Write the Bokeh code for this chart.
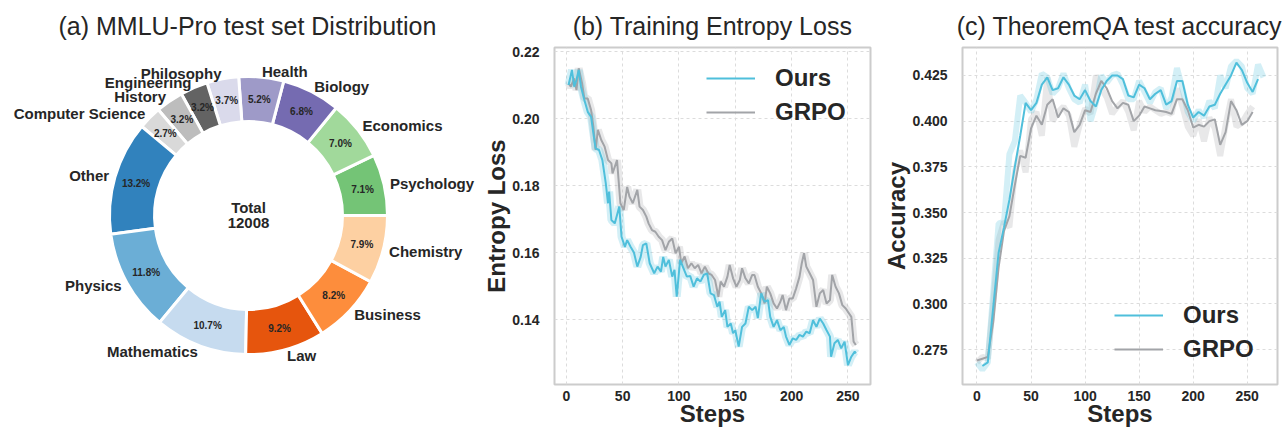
import numpy as np
from bokeh.plotting import figure
from bokeh.layouts import row
from bokeh.models import (Range1d, FixedTicker, NumeralTickFormatter, Legend,
                          LegendItem, ColumnDataSource)
from bokeh.core.properties import value
from bokeh.embed import file_html
from bokeh.resources import INLINE

FONT = "Liberation Sans"
TXT = "#262626"

# ---------------- (a) MMLU-Pro distribution ----------------
categories = ["Psychology", "Economics", "Biology", "Health", "Philosophy",
              "Engineering", "History", "Computer Science", "Other", "Physics",
              "Mathematics", "Law", "Business", "Chemistry"]
shares = [7.1, 7.0, 6.8, 5.2, 3.7, 3.2, 3.2, 2.7, 13.2, 11.8, 10.7, 9.2, 8.2, 7.9]
slice_colors = ["#74c476", "#a1d99b", "#756bb1", "#9e9ac8", "#dadaeb",
                "#636363", "#bdbdbd", "#d9d9d9", "#3182bd", "#6baed6",
                "#c6dbef", "#e6550d", "#fd8d3c", "#fdd0a2"]
total_count = 12008

# ---------------- (b) entropy loss ----------------
ent_steps_ours = [2, 5, 7, 9, 11, 13, 16, 19, 22, 24, 26, 29, 32, 35, 37, 38, 40, 43, 45, 47,
                  49, 52, 54, 57, 60, 63, 66, 68, 71, 74, 78, 81, 84, 86, 88, 91, 94, 96, 98, 101,
                  104, 107, 110, 113, 116, 119, 122, 125, 128, 131, 134, 136, 138, 141, 143, 146,
                  148, 150, 153, 156, 159, 162, 165, 168, 170, 173, 176, 179, 181, 184, 187, 190,
                  193, 195, 198, 201, 204, 207, 210, 213, 216, 219, 222, 225, 228, 231, 234, 235,
                  238, 241, 244, 247, 250, 253, 256, 257]
ent_ours = [0.2100, 0.2145, 0.2095, 0.2115, 0.2145, 0.2095, 0.2055, 0.2020, 0.2005, 0.1956,
            0.1911, 0.1906, 0.1876, 0.1807, 0.1747, 0.1782, 0.1697, 0.1687, 0.1712, 0.1737,
            0.1647, 0.1617, 0.1637, 0.1617, 0.1600, 0.1558, 0.1587, 0.1622, 0.1627, 0.1568,
            0.1538, 0.1558, 0.1543, 0.1587, 0.1558, 0.1578, 0.1528, 0.1548, 0.1468, 0.1578,
            0.1553, 0.1528, 0.1530, 0.1498, 0.1523, 0.1513, 0.1533, 0.1538, 0.1478, 0.1473,
            0.1438, 0.1453, 0.1408, 0.1428, 0.1378, 0.1388, 0.1359, 0.1368, 0.1319, 0.1378,
            0.1388, 0.1438, 0.1428, 0.1438, 0.1404, 0.1478, 0.1453, 0.1458, 0.1408, 0.1378,
            0.1398, 0.1368, 0.1378, 0.1349, 0.1324, 0.1344, 0.1339, 0.1354, 0.1349, 0.1364,
            0.1359, 0.1398, 0.1378, 0.1403, 0.1388, 0.1368, 0.1349, 0.1289, 0.1329, 0.1339,
            0.1314, 0.1334, 0.1264, 0.1289, 0.1304, 0.1299]
ent_steps_grpo = [2, 4, 7, 9, 11, 14, 16, 19, 22, 24, 26, 28, 31, 34, 37, 40, 41, 45, 48, 51,
                  54, 56, 59, 63, 65, 68, 71, 73, 76, 79, 82, 85, 88, 91, 94, 97, 100, 102, 105,
                  108, 111, 114, 117, 120, 123, 126, 129, 132, 135, 137, 140, 143, 145, 148, 151,
                  154, 156, 159, 162, 165, 167, 170, 173, 176, 178, 181, 184, 187, 190, 192, 195,
                  198, 201, 204, 207, 209, 211, 213, 216, 219, 222, 225, 228, 231, 234, 236, 239,
                  242, 245, 248, 253, 255, 257]
ent_grpo = [0.2105, 0.2095, 0.2120, 0.2085, 0.2150, 0.2105, 0.2060, 0.2060, 0.2025, 0.1976,
            0.1906, 0.1966, 0.1936, 0.1916, 0.1876, 0.1866, 0.1836, 0.1876, 0.1747, 0.1727,
            0.1796, 0.1767, 0.1747, 0.1787, 0.1737, 0.1727, 0.1707, 0.1687, 0.1667, 0.1662,
            0.1647, 0.1637, 0.1607, 0.1632, 0.1642, 0.1598, 0.1617, 0.1568, 0.1588, 0.1553,
            0.1568, 0.1553, 0.1563, 0.1538, 0.1558, 0.1538, 0.1533, 0.1518, 0.1468, 0.1513,
            0.1498, 0.1528, 0.1563, 0.1523, 0.1498, 0.1518, 0.1553, 0.1523, 0.1508, 0.1533,
            0.1533, 0.1498, 0.1478, 0.1448, 0.1498, 0.1478, 0.1448, 0.1433, 0.1453, 0.1473,
            0.1428, 0.1463, 0.1463, 0.1493, 0.1528, 0.1568, 0.1598, 0.1558, 0.1538, 0.1518,
            0.1438, 0.1478, 0.1488, 0.1448, 0.1458, 0.1533, 0.1498, 0.1478, 0.1443, 0.1433,
            0.1408, 0.1334, 0.1324]

# ---------------- (c) TheoremQA accuracy ----------------
acc_raw_steps = list(range(0, 270, 5))
acc_ours_raw = [0.268, 0.264, 0.268, 0.306, 0.344, 0.345, 0.382, 0.389, 0.414, 0.410,
                0.405, 0.412, 0.426, 0.424, 0.415, 0.418, 0.426, 0.418, 0.412, 0.410,
                0.420, 0.400, 0.410, 0.425, 0.421, 0.425, 0.426, 0.420, 0.412, 0.412,
                0.422, 0.416, 0.410, 0.416, 0.418, 0.407, 0.413, 0.429, 0.418, 0.405,
                0.400, 0.406, 0.402, 0.411, 0.407, 0.425, 0.418, 0.430, 0.433, 0.430,
                0.418, 0.415, 0.431, 0.424]
acc_grpo_raw_steps = list(range(0, 260, 5))
acc_grpo_raw = [0.268, 0.271, 0.270, 0.300, 0.335, 0.345, 0.342, 0.372, 0.384, 0.372,
                0.401, 0.405, 0.392, 0.424, 0.400, 0.405, 0.408, 0.403, 0.386, 0.398,
                0.407, 0.404, 0.425, 0.418, 0.413, 0.404, 0.408, 0.411, 0.405, 0.395,
                0.411, 0.405, 0.408, 0.406, 0.404, 0.405, 0.404, 0.418, 0.408, 0.397,
                0.392, 0.401, 0.389, 0.402, 0.396, 0.381, 0.398, 0.412, 0.397, 0.399,
                0.404, 0.408]
acc_ours_steps = list(range(5, 265, 5))
acc_ours = [0.266, 0.268, 0.298, 0.328, 0.342, 0.357, 0.375, 0.392, 0.410, 0.406,
            0.410, 0.420, 0.424, 0.417, 0.418, 0.424, 0.420, 0.414, 0.412, 0.417,
            0.411, 0.408, 0.417, 0.422, 0.425, 0.425, 0.423, 0.414, 0.413, 0.420,
            0.418, 0.412, 0.415, 0.417, 0.409, 0.411, 0.422, 0.422, 0.409, 0.402,
            0.405, 0.403, 0.408, 0.409, 0.415, 0.420, 0.425, 0.432, 0.428, 0.421,
            0.416, 0.423]
acc_grpo_steps = list(range(0, 260, 5))
acc_grpo = [0.269, 0.270, 0.271, 0.290, 0.320, 0.340, 0.348, 0.365, 0.381, 0.380,
            0.396, 0.403, 0.398, 0.409, 0.412, 0.402, 0.407, 0.405, 0.394, 0.398,
            0.406, 0.405, 0.415, 0.422, 0.418, 0.411, 0.407, 0.410, 0.409, 0.400,
            0.403, 0.408, 0.407, 0.406, 0.4055, 0.405, 0.404, 0.412, 0.412, 0.406,
            0.3965, 0.398, 0.397, 0.400, 0.401, 0.387, 0.394, 0.411, 0.406, 0.398,
            0.400, 0.405]

OURS_C = "#4fbfdb"
GRPO_C = "#a2a4a8"

H = 431
TOP, BOTTOM = 47, 47

# ================= figure (a) =================
W_A = 480
pa = figure(width=W_A, height=H, output_backend="svg", toolbar_location=None,
            x_range=Range1d(0, W_A), y_range=Range1d(BOTTOM, H - TOP),
            min_border_left=0, min_border_right=0,
            min_border_top=TOP, min_border_bottom=BOTTOM)
pa.axis.visible = False
pa.grid.visible = False
pa.outline_line_color = None
pa.title.text = "(a) MMLU-Pro test set Distribution"
pa.title.align = "left"
pa.title.offset = 58
pa.title.text_font = FONT
pa.title.text_font_size = "25px"
pa.title.text_font_style = "normal"
pa.title.text_color = TXT
pa.title.standoff = 15

cx, cy, r_out, r_in = 248, 216, 139, 94
vals = np.array(shares, dtype=float)
frac = vals / vals.sum()
ends = np.cumsum(frac) * 2 * np.pi
starts = ends - frac * 2 * np.pi
mids = (starts + ends) / 2
src_a = ColumnDataSource(dict(start=starts, end=ends, color=slice_colors))
pa.annular_wedge(x=cx, y=cy, inner_radius=r_in, outer_radius=r_out,
                 start_angle="start", end_angle="end", fill_color="color",
                 line_color="white", line_width=3, source=src_a)

lab_r = 145
lab_src = ColumnDataSource(dict(
    x=cx + lab_r * np.cos(mids), y=cy + lab_r * np.sin(mids), text=categories,
    align=["left" if np.cos(m) > 0 else "right" for m in mids]))
pa.text(x="x", y="y", text="text", text_align="align", text_baseline="middle",
        text_font=value(FONT), text_font_style="bold", text_font_size="15px",
        text_color=TXT, source=lab_src)

pct_r = 117
pct_src = ColumnDataSource(dict(
    x=cx + pct_r * np.cos(mids), y=cy + pct_r * np.sin(mids),
    text=[f"{s:.1f}%" for s in shares]))
pa.text(x="x", y="y", text="text", text_align="center", text_baseline="middle",
        text_font=value(FONT), text_font_style="bold", text_font_size="10px",
        text_color=TXT, source=pct_src)

pa.text(x=[cx, cx], y=[cy + 8, cy - 7], text=["Total", str(total_count)],
        text_align="center", text_baseline="middle", text_font=value(FONT),
        text_font_style="bold", text_font_size="15px", text_color=TXT)


def style(p, title, ylabel, yticks, yfmt):
    p.title.text = title
    p.title.align = "center"
    p.title.text_font = FONT
    p.title.text_font_size = "25px"
    p.title.text_font_style = "normal"
    p.title.text_color = TXT
    p.title.standoff = 15
    p.outline_line_color = "#cccccc"
    p.outline_line_width = 2
    p.background_fill_color = "white"
    p.border_fill_color = "white"
    for ax in p.axis:
        ax.axis_line_color = None
        ax.major_tick_line_color = None
        ax.minor_tick_line_color = None
        ax.major_label_text_font = FONT
        ax.major_label_text_font_style = "bold"
        ax.major_label_text_font_size = "14px"
        ax.major_label_text_color = TXT
        ax.axis_label_text_font = FONT
        ax.axis_label_text_font_style = "bold"
        ax.axis_label_text_font_size = "24px"
        ax.axis_label_text_color = TXT
    p.xaxis.axis_label = "Steps"
    p.yaxis.axis_label = ylabel
    p.xaxis.ticker = FixedTicker(ticks=[0, 50, 100, 150, 200, 250])
    p.yaxis.ticker = FixedTicker(ticks=yticks)
    p.yaxis.formatter = NumeralTickFormatter(format=yfmt)
    p.xaxis.major_label_standoff = 0
    p.xaxis.axis_label_standoff = -4
    p.yaxis.major_label_standoff = 9
    p.yaxis.axis_label_standoff = -1
    p.grid.grid_line_color = "#dcdcdc"
    p.grid.grid_line_dash = "3 3"
    p.grid.grid_line_width = 1


def legend(p, r1, r2, loc):
    lg = Legend(items=[LegendItem(label="Ours", renderers=[r1]),
                       LegendItem(label="GRPO", renderers=[r2])],
                location=loc, padding=0, margin=0, spacing=4,
                glyph_width=49, glyph_height=30, label_height=30,
                label_standoff=20, border_line_color=None,
                background_fill_alpha=0, label_text_font=FONT,
                label_text_font_style="bold", label_text_font_size="24px",
                label_text_color=TXT)
    p.add_layout(lg)


# ================= figure (b) =================
pb = figure(width=400, height=H, output_backend="svg", toolbar_location=None,
            x_range=Range1d(-10.5, 270), y_range=Range1d(0.1206, 0.2212),
            min_border_left=71, min_border_right=10, min_border_top=TOP,
            min_border_bottom=BOTTOM)
style(pb, "(b) Training Entropy Loss", "Entropy Loss",
      [0.14, 0.16, 0.18, 0.20, 0.22], "0.00")
pb.line(ent_steps_grpo, ent_grpo, line_color=GRPO_C, line_alpha=0.25, line_width=8)
pb.line(ent_steps_ours, ent_ours, line_color=OURS_C, line_alpha=0.25, line_width=8)
rg = pb.line(ent_steps_grpo, ent_grpo, line_color=GRPO_C, line_width=2)
ro = pb.line(ent_steps_ours, ent_ours, line_color=OURS_C, line_width=2)
legend(pb, ro, rg, (152, 257))

# ================= figure (c) =================
pc = figure(width=404, height=H, output_backend="svg", toolbar_location=None,
            x_range=Range1d(-13.4, 278), y_range=Range1d(0.2559, 0.4403),
            min_border_left=78, min_border_right=7, min_border_top=TOP,
            min_border_bottom=BOTTOM)
style(pc, "(c) TheoremQA test accuracy", "Accuracy",
      [0.275, 0.300, 0.325, 0.350, 0.375, 0.400, 0.425], "0.000")
pc.line(acc_grpo_raw_steps, acc_grpo_raw, line_color=GRPO_C, line_alpha=0.25, line_width=6)
pc.line(acc_raw_steps, acc_ours_raw, line_color=OURS_C, line_alpha=0.25, line_width=6)
rg2 = pc.line(acc_grpo_steps, acc_grpo, line_color=GRPO_C, line_width=2)
ro2 = pc.line(acc_ours_steps, acc_ours, line_color=OURS_C, line_width=2)
legend(pc, ro2, rg2, (152, 20))

layout = row(pa, pb, pc, spacing=0)
open("out.html", "w").write(file_html(layout, INLINE))
